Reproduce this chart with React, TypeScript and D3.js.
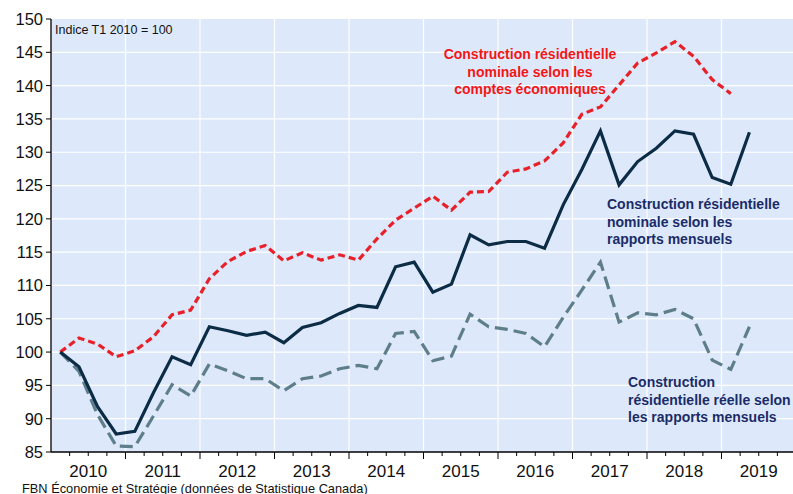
import React from "react";
import * as d3 from "d3";

const years = ["2010", "2011", "2012", "2013", "2014", "2015", "2016", "2017", "2018", "2019"];
const yTicks = [85, 90, 95, 100, 105, 110, 115, 120, 125, 130, 135, 140, 145, 150];

// Construction résidentielle nominale selon les comptes économiques (T1 2010 .. T1 2019)
const nominalAccounts = [100, 102.1, 101.2, 99.3, 100.2, 102.3, 105.6, 106.3, 111.0, 113.6, 115.1, 116.0, 113.7, 114.9, 113.8, 114.6, 113.8, 117.0, 119.8, 121.6, 123.4, 121.3, 124.0, 124.1, 127.0, 127.5, 128.7, 131.4, 135.7, 136.8, 140.1, 143.4, 144.9, 146.6, 144.4, 140.9, 138.8];
// Construction résidentielle nominale selon les rapports mensuels (T1 2010 .. T2 2019)
const nominalMonthly = [100, 97.8, 91.8, 87.7, 88.1, 93.9, 99.3, 98.1, 103.8, 103.2, 102.5, 103.0, 101.4, 103.7, 104.4, 105.8, 107.0, 106.7, 112.8, 113.5, 109.0, 110.2, 117.6, 116.1, 116.6, 116.6, 115.6, 122.1, 127.4, 133.2, 125.1, 128.6, 130.6, 133.2, 132.7, 126.2, 125.2, 133.0];
// Construction résidentielle réelle selon les rapports mensuels (T1 2010 .. T2 2019)
const realMonthly = [100, 97.1, 90.6, 85.9, 85.8, 90.4, 95.1, 93.4, 98.2, 97.2, 96.0, 96.0, 94.2, 96.0, 96.4, 97.5, 98.0, 97.5, 102.8, 103.1, 98.7, 99.4, 105.7, 103.8, 103.4, 102.8, 100.8, 105.2, 109.3, 113.5, 104.5, 105.9, 105.6, 106.4, 105.0, 98.8, 97.4, 103.8];

const W = 793;
const H = 494;
const left = 51;
const right = 796;
const top = 19;
const bottom = 452;
const FONT = "Arial, 'Liberation Sans', sans-serif";

export default function App() {
  const startYear = +years[0];
  const x = d3.scaleLinear().domain([startYear, startYear + 10]).range([left, right]);
  const y = d3.scaleLinear().domain([85, 150]).range([bottom, top]);
  const qx = (i: number) => x(startYear + (i + 0.5) / 4);
  const line = d3
    .line<number>()
    .x((_, i) => qx(i))
    .y((d) => y(d));

  const quarterTicks = d3.range(1, 40).map((k) => startYear + k / 4);

  return (
    <svg
      width={W}
      height={H}
      style={{ position: "absolute", left: 0, top: 0, display: "block", background: "#fff" }}
    >
      <defs>
        <clipPath id="plotclip">
          <rect x={left} y={top - 2} width={right - left} height={bottom - top + 2} />
        </clipPath>
      </defs>
      <rect x={left} y={top} width={right - left} height={bottom - top} fill="#dde9fb" />
      {yTicks.slice(1, -1).map((t) => (
        <line key={"gy" + t} x1={left} x2={right} y1={y(t)} y2={y(t)} stroke="#fff" strokeWidth={1.2} />
      ))}
      {years.slice(1).map((yr) => (
        <line key={"gx" + yr} x1={x(+yr)} x2={x(+yr)} y1={top} y2={bottom} stroke="#fff" strokeWidth={1.2} />
      ))}

      <g clipPath="url(#plotclip)" fill="none" strokeLinejoin="miter">
        <path d={line(realMonthly) || ""} stroke="#5f7e8b" strokeWidth={3.2} strokeDasharray="13,6" />
        <path d={line(nominalAccounts) || ""} stroke="#e8202a" strokeWidth={3.2} strokeDasharray="7,4" />
        <path d={line(nominalMonthly) || ""} stroke="#0c2c46" strokeWidth={3.2} />
      </g>

      {/* axes */}
      <line x1={left} x2={left} y1={top} y2={bottom} stroke="#000" strokeWidth={1.3} />
      <line x1={left} x2={W} y1={bottom} y2={bottom} stroke="#000" strokeWidth={1.3} />
      {yTicks.map((t) => (
        <g key={"yt" + t}>
          <line x1={left - 5} x2={left} y1={y(t)} y2={y(t)} stroke="#000" strokeWidth={1} />
          <text x={left - 8} y={y(t)} dy="0.36em" textAnchor="end" fontFamily={FONT} fontSize={16.5} fill="#111">
            {t}
          </text>
        </g>
      ))}
      {quarterTicks.map((q) => {
        const major = Math.abs(q - Math.round(q)) < 1e-9;
        return (
          <line
            key={"xt" + q}
            x1={x(q)}
            x2={x(q)}
            y1={bottom}
            y2={bottom + (major ? 7 : 4)}
            stroke="#000"
            strokeWidth={1}
          />
        );
      })}
      {years.map((yr) => (
        <text key={"yl" + yr} x={x(+yr + 0.5)} y={476.5} textAnchor="middle" fontFamily={FONT} fontSize={17} fill="#111">
          {yr}
        </text>
      ))}

      <text x={55} y={34} fontFamily={FONT} fontSize={12.5} fill="#111">
        Indice T1 2010 = 100
      </text>

      <g fontFamily={FONT} fontSize={14} fontWeight="bold" fill="#f41515" textAnchor="middle">
        <text x={530} y={59}>Construction résidentielle</text>
        <text x={530} y={76.5}>nominale selon les</text>
        <text x={530} y={94}>comptes économiques</text>
      </g>
      <g fontFamily={FONT} fontSize={14} fontWeight="bold" fill="#1b2b68">
        <text x={607} y={209}>Construction résidentielle</text>
        <text x={607} y={226.5}>nominale selon les</text>
        <text x={607} y={244}>rapports mensuels</text>
      </g>
      <g fontFamily={FONT} fontSize={14} fontWeight="bold" fill="#1b2b68">
        <text x={628} y={387}>Construction</text>
        <text x={628} y={404.5}>résidentielle réelle selon</text>
        <text x={628} y={422}>les rapports mensuels</text>
      </g>

      <text x={22} y={492.5} fontFamily={FONT} fontSize={12.8} fill="#111">
        FBN Économie et Stratégie (données de Statistique Canada)
      </text>
    </svg>
  );
}
